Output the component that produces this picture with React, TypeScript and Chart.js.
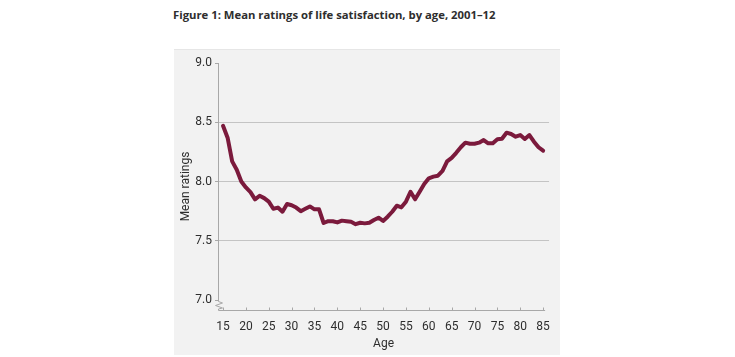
import React, { useEffect, useRef } from "react";
import { Chart, registerables } from "chart.js";

Chart.register(...registerables);

const ages = [
  15, 16, 17, 18, 19, 20, 21, 22, 23, 24,
  25, 26, 27, 28, 29, 30, 31, 32, 33, 34,
  35, 36, 37, 38, 39, 40, 41, 42, 43, 44,
  45, 46, 47, 48, 49, 50, 51, 52, 53, 54,
  55, 56, 57, 58, 59, 60, 61, 62, 63, 64,
  65, 66, 67, 68, 69, 70, 71, 72, 73, 74,
  75, 76, 77, 78, 79, 80, 81, 82, 83, 84,
  85,
];

const meanRatings = [
  8.47, 8.37, 8.17, 8.1, 8.0, 7.95, 7.91, 7.85, 7.88, 7.86,
  7.83, 7.77, 7.78, 7.745, 7.81, 7.8, 7.78, 7.75, 7.77, 7.79,
  7.765, 7.765, 7.65, 7.665, 7.665, 7.655, 7.67, 7.665, 7.66, 7.64,
  7.652, 7.647, 7.652, 7.675, 7.695, 7.667, 7.703, 7.745, 7.796, 7.782,
  7.83, 7.914, 7.85, 7.914, 7.979, 8.027, 8.041, 8.049, 8.089, 8.17,
  8.2, 8.242, 8.289, 8.328, 8.319, 8.319, 8.328, 8.35, 8.322, 8.322,
  8.356, 8.361, 8.412, 8.401, 8.378, 8.392, 8.359, 8.392, 8.336, 8.289,
  8.26,
];

const xTicks = [15, 20, 25, 30, 35, 40, 45, 50, 55, 60, 65, 70, 75, 80, 85];
const yTicks = [7.0, 7.5, 8.0, 8.5, 9.0];
const yGridValues = [7.5, 8.0, 8.5];

const TITLE = "Figure 1: Mean ratings of life satisfaction, by age, 2001–12";
const X_TITLE = "Age";
const Y_TITLE = "Mean ratings";

const LINE_COLOR = "#7b1a3c";
const AXIS_COLOR = "#a8a8a8";
const GRID_COLOR = "#c4c4c4";
const TEXT_COLOR = "#2e2e2e";
const FONT = 'Roboto, "Noto Sans", sans-serif';

export default function App() {
  const ref = useRef<HTMLCanvasElement>(null);

  useEffect(() => {
    if (!ref.current) return;

    const axesPlugin = {
      id: "customAxes",
      beforeDatasetsDraw(chart: any) {
        const { ctx, chartArea, scales } = chart;
        const x = scales.x;
        const y = scales.y;
        ctx.save();
        ctx.strokeStyle = AXIS_COLOR;
        ctx.lineWidth = 1;
        const ax = Math.round(chartArea.left) + 0.5;
        const bottom = Math.round(chartArea.bottom) + 0.5;
        const yTop = y.getPixelForValue(yTicks[yTicks.length - 1]);
        const y7 = Math.round(y.getPixelForValue(yTicks[0])) + 0.5;
        // y axis with break symbol
        ctx.beginPath();
        ctx.moveTo(ax, yTop);
        ctx.lineTo(ax, y7 + 1);
        ctx.lineTo(ax + 4, y7 + 2.5);
        ctx.lineTo(ax - 3, y7 + 5);
        ctx.lineTo(ax + 4, y7 + 7.5);
        ctx.lineTo(ax, y7 + 8.5);
        ctx.lineTo(ax, bottom);
        ctx.stroke();
        // x axis
        ctx.beginPath();
        ctx.moveTo(ax, bottom);
        ctx.lineTo(x.getPixelForValue(xTicks[xTicks.length - 1]) + 2, bottom);
        for (const v of xTicks) {
          const px = Math.round(x.getPixelForValue(v)) + 0.5;
          ctx.moveTo(px, bottom);
          ctx.lineTo(px, bottom - 3);
        }
        ctx.stroke();
        ctx.restore();
      },
    };

    const chart = new Chart(ref.current, {
      type: "line",
      data: {
        datasets: [
          {
            label: Y_TITLE,
            data: ages.map((a, i) => ({ x: a, y: meanRatings[i] })),
            borderColor: LINE_COLOR,
            backgroundColor: LINE_COLOR,
            borderWidth: 4,
            pointRadius: 0,
            tension: 0,
            borderJoinStyle: "round",
            borderCapStyle: "round",
          },
        ],
      },
      options: {
        animation: false,
        responsive: false,
        maintainAspectRatio: false,
        layout: { padding: { top: 13, right: 8, left: 0, bottom: 0 } },
        plugins: {
          legend: { display: false },
          tooltip: { enabled: false },
        },
        scales: {
          x: {
            type: "linear",
            min: 13.9,
            max: 86.3,
            afterBuildTicks: (s: any) => {
              s.ticks = xTicks.map((v) => ({ value: v }));
            },
            afterFit: (s: any) => {
              s.height = 45;
            },
            grid: { display: false, drawTicks: false },
            border: { display: false },
            ticks: {
              color: TEXT_COLOR,
              font: { family: FONT, size: 12 },
              padding: 10,
              maxRotation: 0,
              autoSkip: false,
              callback: (v: any) => String(v),
            },
            title: {
              display: true,
              text: X_TITLE,
              color: TEXT_COLOR,
              font: { family: FONT, size: 12 },
              padding: { top: 0, bottom: 4 },
            },
          },
          y: {
            min: 6.916,
            max: 9.0,
            afterBuildTicks: (s: any) => {
              s.ticks = yTicks.map((v) => ({ value: v }));
            },
            afterFit: (s: any) => {
              s.width = 44;
            },
            grid: {
              color: (c: any) =>
                c.tick && yGridValues.includes(c.tick.value) ? GRID_COLOR : "rgba(0,0,0,0)",
              tickColor: AXIS_COLOR,
              tickLength: 3,
              drawTicks: true,
              lineWidth: 1,
            },
            border: { display: false },
            ticks: {
              color: TEXT_COLOR,
              font: { family: FONT, size: 12 },
              padding: 3,
              autoSkip: false,
              callback: (v: any) => Number(v).toFixed(1),
            },
            title: {
              display: true,
              text: Y_TITLE,
              color: TEXT_COLOR,
              font: { family: FONT, size: 12 },
              padding: { top: 5, bottom: 0 },
            },
          },
        },
      },
      plugins: [axesPlugin],
    } as any);

    return () => chart.destroy();
  }, []);

  return (
    <div
      style={{
        position: "fixed",
        left: 0,
        top: 0,
        width: 735,
        height: 357,
        background: "#ffffff",
        overflow: "hidden",
      }}
    >
      <div
        style={{
          position: "absolute",
          left: 173,
          top: 7,
          fontFamily: '"Open Sans", sans-serif',
          fontWeight: 700,
          fontSize: 11.3,
          lineHeight: "15px",
          color: TEXT_COLOR,
          whiteSpace: "nowrap",
        }}
      >
        {TITLE}
      </div>
      <div
        style={{
          position: "absolute",
          left: 174,
          top: 49,
          width: 386,
          height: 306,
          background: "#f2f2f2",
          borderTop: "1px solid #e6e6e6",
          boxSizing: "border-box",
        }}
      >
        <canvas ref={ref} width={386} height={305} style={{ display: "block", width: 386, height: 305 }} />
      </div>
    </div>
  );
}
